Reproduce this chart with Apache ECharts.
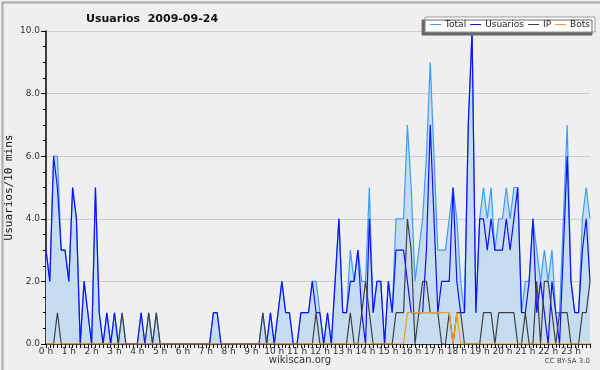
<!DOCTYPE html>
<html><head><meta charset="utf-8">
<script src="https://cdn.jsdelivr.net/npm/echarts@6/dist/echarts.min.js"></script>
<style>html,body{margin:0;padding:0;background:#efeff0;}#c{width:600px;height:370px;}</style>
</head><body><div id="c"></div>
<script>
var hourLabels = ["0 h","1 h","2 h","3 h","4 h","5 h","6 h","7 h","8 h","9 h","10 h","11 h","12 h","13 h","14 h","15 h","16 h","17 h","18 h","19 h","20 h","21 h","22 h","23 h"];
var yTicks = [0, 2, 4, 6, 8, 10];
var seriesNames = ["Total","Usuarios","IP","Bots"];
var total = [3,2,6,6,3,3,2,5,4,0, 2,1,0,5,1,0,1,0,1,0, 1,0,0,0,0,1,0,1,0,1, 0,0,0,0,0,0,0,0,0,0, 0,0,0,0,1,1,0,0,0,0, 0,0,0,0,0,0,0,1,0,1, 0,1,2,1,1,0,0,1,1,1, 2,2,1,0,1,0,2,4,1,1, 3,2,3,2,2,5,1,2,2,0, 2,1,4,4,4,7,5,2,3,4, 6,9,6,3,3,3,4,5,4,2, 1,7,10,1,4,5,4,5,3,4, 4,5,4,5,5,1,2,2,4,3, 2,3,2,3,1,1,4,7,2,1, 1,4,5,4];
var usuarios = [3,2,6,5,3,3,2,5,4,0, 2,1,0,5,1,0,1,0,1,0, 0,0,0,0,0,1,0,0,0,0, 0,0,0,0,0,0,0,0,0,0, 0,0,0,0,1,1,0,0,0,0, 0,0,0,0,0,0,0,0,0,1, 0,1,2,1,1,0,0,1,1,1, 2,1,1,0,1,0,2,4,1,1, 2,2,3,1,0,4,1,2,2,0, 2,1,3,3,3,2,1,1,1,1, 3,7,4,1,2,2,2,5,2,1, 1,7,10,1,4,4,3,4,3,3, 3,4,3,4,5,1,1,2,4,1, 2,1,0,2,1,0,3,6,2,1, 1,3,4,2];
var ip = [0,0,0,1,0,0,0,0,0,0, 0,0,0,0,0,0,0,0,0,0, 1,0,0,0,0,0,0,1,0,1, 0,0,0,0,0,0,0,0,0,0, 0,0,0,0,0,0,0,0,0,0, 0,0,0,0,0,0,0,1,0,0, 0,0,0,0,0,0,0,0,0,0, 0,1,0,0,0,0,0,0,0,0, 1,0,0,1,2,1,0,0,0,0, 0,0,1,1,1,4,3,0,1,2, 2,1,1,1,0,0,1,0,1,1, 0,0,0,0,0,1,1,1,0,1, 1,1,1,1,0,0,1,0,0,2, 0,2,2,1,0,1,1,1,0,0, 0,1,1,2];
var bots = [0,0,0,0,0,0,0,0,0,0, 0,0,0,0,0,0,0,0,0,0, 0,0,0,0,0,0,0,0,0,0, 0,0,0,0,0,0,0,0,0,0, 0,0,0,0,0,0,0,0,0,0, 0,0,0,0,0,0,0,0,0,0, 0,0,0,0,0,0,0,0,0,0, 0,0,0,0,0,0,0,0,0,0, 0,0,0,0,0,0,0,0,0,0, 0,0,0,0,0,1,1,1,1,1, 1,1,1,1,1,1,1,0,1,0, 0,0,0,0,0,0,0,0,0,0, 0,0,0,0,0,0,0,0,0,0, 0,0,0,0,0,0,0,0,0,0, 0,0,0,0];
var slots = total.map(function(_, i){ return i; });

var chart = echarts.init(document.getElementById('c'), null, {renderer:'canvas'});
var colors = ['#3d9bff','#1010ff','#404040','#ff9a10'];
function lineSeries(name, data, color, area, z){
  var s = {name:name, type:'line', data:data, symbol:'none', z:z,
    lineStyle:{color:color, width:1.2}, itemStyle:{color:color}, animation:false};
  if (area) s.areaStyle = {color:'#c5dcf1', opacity:1};
  return s;
}
chart.setOption({
  backgroundColor:'#efeff0',
  animation:false,
  title:{text:'Usuarios  2009-09-24', left:81, top:9,
    textStyle:{fontFamily:'DejaVu Sans', fontWeight:'bold', fontSize:11, color:'#111'}},
  legend:{data:seriesNames.map(function(n,i){return {name:n, itemStyle:{color:colors[i]}};}),
    right:5, top:17, backgroundColor:'#ffffff', borderColor:'#999', borderWidth:1,
    padding:[3,5,3,5], itemGap:4, itemWidth:11, itemHeight:1, icon:'rect',
    shadowColor:'#666', shadowBlur:0, shadowOffsetX:-3, shadowOffsetY:3,
    textStyle:{fontFamily:'DejaVu Sans', fontSize:9, color:'#222', padding:[0,0,0,-1]}},
  grid:{left:46, right:10, top:31, bottom:26, outerBoundsMode:'none', containLabel:false},
  xAxis:{type:'category', data:slots, boundaryGap:false,
    axisLine:{lineStyle:{color:'#000', width:1.5}},
    axisTick:{interval:0, length:4, lineStyle:{color:'#000'}},
    axisLabel:{interval:function(i){return i%6===0;}, margin:3,
      formatter:function(v, i){return hourLabels[i/6];},
      fontFamily:'DejaVu Sans', fontSize:9, color:'#333'},
    splitLine:{show:false}},
  yAxis:{type:'value', min:yTicks[0], max:yTicks[yTicks.length-1], interval:2,
    name:'Usuarios/10 mins', nameLocation:'middle', nameGap:31, nameMoveOverlap:false,
    nameTextStyle:{fontFamily:'DejaVu Sans Mono', fontSize:11, color:'#111'},
    axisLine:{show:true, lineStyle:{color:'#000', width:1.5}},
    axisTick:{show:true, length:5, lineStyle:{color:'#000'}},
    minorTick:{show:true, splitNumber:4, length:3, lineStyle:{color:'#000'}},
    axisLabel:{margin:6, formatter:function(v){return v.toFixed(1);}, fontFamily:'DejaVu Sans', fontSize:9, color:'#333'},
    splitLine:{lineStyle:{color:'#cccccc', width:1}}},
  graphic:[
    {type:'rect', left:0, top:0, shape:{width:599, height:369}, style:{fill:'none', stroke:'#aaaaaa', lineWidth:2}, silent:true},
    {type:'text', left:'center', top:355, style:{text:'wikiscan.org', font:'10px "DejaVu Sans"', fill:'#333'}},
    {type:'text', right:10, top:358, style:{text:'CC BY-SA 3.0', font:'7px "DejaVu Sans"', fill:'#444'}}
  ],
  series:[
    lineSeries(seriesNames[0], total, colors[0], true, 2),
    lineSeries(seriesNames[1], usuarios, colors[1], false, 3),
    lineSeries(seriesNames[2], ip, colors[2], false, 4),
    lineSeries(seriesNames[3], bots, colors[3], false, 5)
  ]
});
</script></body></html>
